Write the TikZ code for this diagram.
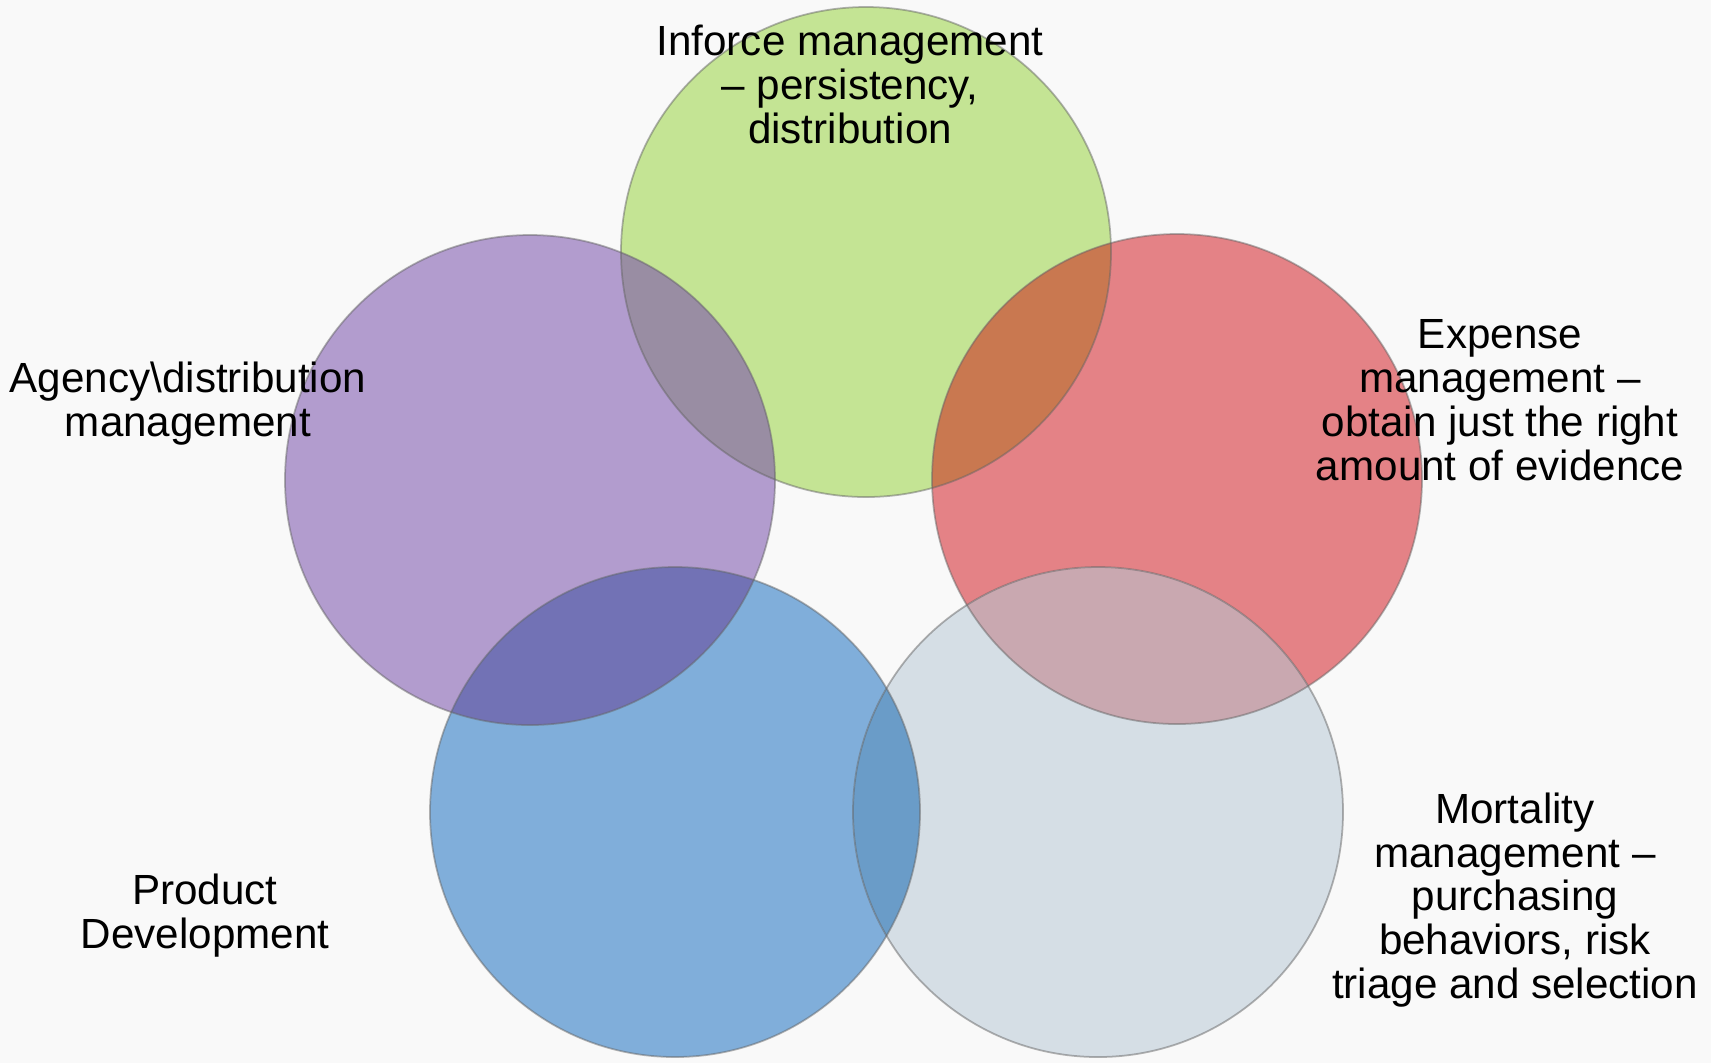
\documentclass[tikz,border=0pt]{standalone}
\usepackage{fontspec}
\setmainfont{Liberation Sans}
\definecolor{backdrop}{HTML}{F9F9F9}
\definecolor{inforce}{HTML}{C4E494}
\definecolor{agency}{HTML}{B29CCE}
\definecolor{expense}{HTML}{E48286}
\definecolor{product}{HTML}{80AEDA}
\definecolor{mortality}{HTML}{D5DEE5}
\definecolor{infagy}{HTML}{998DA3}
\definecolor{infexp}{HTML}{C97850}
\definecolor{agyprd}{HTML}{7272B5}
\definecolor{expmrt}{HTML}{C9A8B0}
\definecolor{prdmrt}{HTML}{6A9CC8}
\newcommand{\lens}[3]{\begin{scope}
    \clip (#1.center) circle [radius=24.5mm];
    \fill[#3] (#2.center) circle [radius=24.5mm];
  \end{scope}}

\begin{document}
\begin{tikzpicture}[x=0.1mm,y=-0.1mm,
    area/.style={circle,minimum size=49mm,inner sep=0pt},
    rim/.style={draw=black!60,draw opacity=0.5,line width=0.5pt},
    topic/.style={align=center,font=\fontsize{12}{12.5}\selectfont,inner sep=0pt}]
  \fill[backdrop] (0,0) rectangle (1711,1063);
  \useasboundingbox (0,0) rectangle (1711,1063);
  \node[area,fill=inforce] (inf) at (866,252) {};
  \node[area,fill=agency] (agy) at (530,480) {};
  \node[area,fill=expense] (exp) at (1177,479) {};
  \node[area,fill=product] (prd) at (675,812) {};
  \node[area,fill=mortality] (mrt) at (1098,812) {};
  \lens{inf}{agy}{infagy}
  \lens{inf}{exp}{infexp}
  \lens{agy}{prd}{agyprd}
  \lens{exp}{mrt}{expmrt}
  \lens{prd}{mrt}{prdmrt}
  \foreach \c in {inf,agy,exp,prd,mrt}
    \draw[rim] (\c.center) circle [radius=24.5mm];
  \node[topic] (inftext) at (850,84) {Inforce management\\– persistency,\\distribution};
  \node[topic] (agytext) at (188,404) {Agency\textbackslash distribution\\management};
  \node[topic] (exptext) at (1500,400) {Expense\\management –\\obtain just the right\\amount of evidence};
  \node[topic] (prdtext) at (205,916) {Product\\Development};
  \node[topic] (mrttext) at (1515,900) {Mortality\\management –\\purchasing\\behaviors, risk\\triage and selection};
\end{tikzpicture}
\end{document}
